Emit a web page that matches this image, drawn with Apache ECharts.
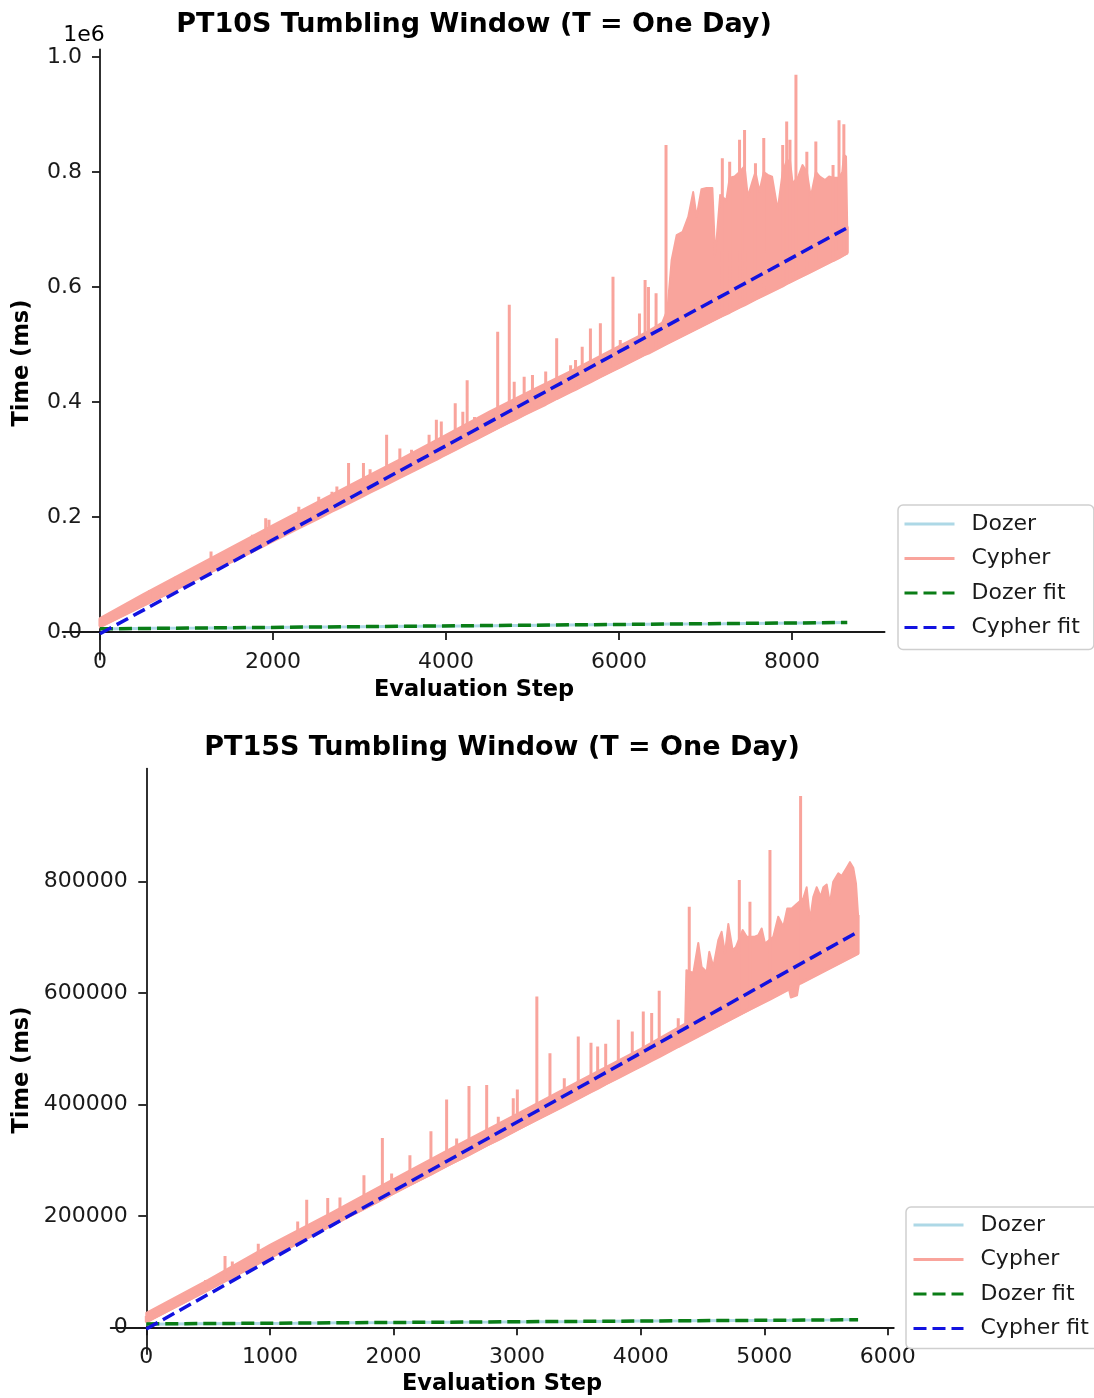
<!DOCTYPE html>
<html>
<head>
<meta charset="utf-8">
<script src="https://cdn.jsdelivr.net/npm/echarts@6/dist/echarts.min.js"></script>
<style>
  html, body { margin: 0; padding: 0; background: #ffffff; }
  #chart { width: 1094px; height: 1398px; }
</style>
</head>
<body>
<div id="chart"></div>
<script>
// ---------- PT10S tumbling window: 8640 evaluation steps ----------
const pt10DozerSteps = [0, 600, 1200, 1800, 2400, 3000, 3600, 4200, 4800, 5400, 6000, 6600, 7200, 7800, 8400, 8639];
const pt10DozerMs    = [5000, 6600, 7000, 7600, 8600, 9100, 10000, 10600, 11400, 12100, 13000, 13900, 14500, 15300, 15900, 16600];

// lower edge of the Cypher trace
const pt10CypherBaseSteps = [0, 1000, 2000, 3000, 4000, 5000, 6000, 6500, 7000, 7500, 8000, 8639];
const pt10CypherBaseMs    = [8000, 83000, 159000, 234000, 309000, 385000, 460000, 497000, 535000, 573000, 610000, 658000];

// upper edge of the dense part of the Cypher trace
const pt10CypherTopSteps = [0, 500, 1000, 1500, 2000, 2500, 3000, 3500, 4000, 4500, 5000, 5500, 6000, 6300, 6500,
  6560, 6609, 6667, 6736, 6801, 6858, 6897, 6954, 7011, 7080, 7100, 7107, 7134, 7170, 7241,
  7280, 7337, 7394, 7452, 7490, 7548, 7578, 7624, 7674, 7720, 7770, 7835, 7893, 7939, 7977,
  8008, 8073, 8122, 8172, 8218, 8276, 8322, 8383, 8429, 8475, 8544, 8582, 8600, 8625, 8639];
const pt10CypherTopMs = [24000, 66000, 106000, 146000, 186000, 225000, 264000, 303000, 343000, 383000, 421000, 458000, 497000, 520000, 538000,
  560000, 647000, 690000, 696000, 722000, 765000, 722000, 770000, 772000, 772000, 700000, 653000, 693000, 760000, 751000,
  790000, 792000, 800000, 810000, 757000, 786000, 800000, 766000, 800000, 795000, 792000, 734000, 800000, 820000, 820000,
  780000, 792000, 812000, 800000, 757000, 800000, 792000, 786000, 792000, 790000, 790000, 800000, 830000, 827000, 705000];

// isolated Cypher spikes: step, value where the spike leaves the trace, spike value
const pt10SpikeSteps = [0, 575, 874, 1284, 1628, 1762, 1916, 1954, 2299, 2529, 2682, 2739, 2874, 3046, 3123, 3314, 3467, 3602, 3805, 3889,
  3946, 4107, 4195, 4245, 4330, 4598, 4732, 4789, 4904, 5000, 5153, 5280, 5441, 5498, 5575, 5670, 5785, 5931, 6015, 6237,
  6302, 6341, 6429, 6544, 7195, 7280, 7394, 7452, 7578, 7674, 7893, 7939, 7977, 8046, 8172, 8276, 8475, 8544, 8600, 8639];
const pt10SpikeFootMs = [10000, 52000, 74000, 105000, 130000, 140000, 152000, 155000, 181000, 198000, 210000, 214000, 224000, 237000, 243000, 257000, 269000, 279000, 294000, 300000,
  305000, 317000, 324000, 328000, 334000, 355000, 365000, 369000, 378000, 385000, 396000, 406000, 418000, 422000, 428000, 435000, 444000, 455000, 461000, 478000,
  483000, 485000, 492000, 501000, 550000, 556000, 565000, 569000, 579000, 586000, 602000, 606000, 609000, 614000, 623000, 631000, 646000, 651000, 656000, 660000];
const pt10SpikePeakMs = [24000, 73000, 96000, 140000, 151000, 169000, 198000, 195000, 218000, 235000, 244000, 253000, 294000, 294000, 283000, 343000, 319000, 317000, 343000, 369000,
  366000, 398000, 383000, 438000, 374000, 522000, 569000, 435000, 444000, 447000, 453000, 511000, 464000, 473000, 496000, 528000, 537000, 618000, 508000, 554000,
  612000, 600000, 589000, 847000, 824000, 818000, 856000, 873000, 815000, 859000, 847000, 888000, 856000, 969000, 835000, 853000, 812000, 890000, 883000, 705000];

const pt10DozerFitSteps = [0, 8639];
const pt10DozerFitMs    = [5500, 16500];
const pt10CypherFitSteps = [0, 8639];
const pt10CypherFitMs    = [-3000, 703000];

const pt10XTicks = [0, 2000, 4000, 6000, 8000];
const pt10YTicks = [0, 200000, 400000, 600000, 800000, 1000000];

// ---------- PT15S tumbling window: 5760 evaluation steps ----------
const pt15DozerSteps = [0, 400, 800, 1200, 1600, 2000, 2400, 2800, 3200, 3600, 4000, 4400, 4800, 5200, 5600, 5759];
const pt15DozerMs    = [5600, 6400, 6900, 7300, 8000, 8400, 9000, 9400, 10100, 10500, 11200, 11600, 12300, 12700, 13300, 13700];

const pt15CypherBaseSteps = [0, 1000, 2000, 3000, 4000, 4400, 4800, 5200, 5215, 5265, 5280, 5450, 5759];
const pt15CypherBaseMs    = [9000, 125000, 240000, 354000, 469000, 515000, 561000, 607000, 592000, 596000, 616000, 636000, 671000];

const pt15CypherTopSteps = [0, 500, 1000, 1500, 2000, 2500, 3000, 3500, 4000, 4360,
  4370, 4426, 4466, 4493, 4534, 4555, 4588, 4628, 4655, 4682, 4709, 4744, 4771, 4825, 4858,
  4917, 4952, 4979, 5006, 5073, 5113, 5154, 5186, 5222, 5262, 5316, 5343, 5370, 5397, 5424,
  5456, 5478, 5505, 5531, 5558, 5599, 5626, 5667, 5693, 5720, 5742, 5759];
const pt15CypherTopMs = [26000, 85000, 148000, 206000, 266000, 325000, 383000, 442000, 500000, 545000,
  641000, 636000, 690000, 647000, 638000, 674000, 647000, 695000, 710000, 671000, 724000, 677000, 683000, 713000, 701000,
  701000, 704000, 716000, 689000, 701000, 737000, 719000, 752000, 752000, 760000, 770000, 790000, 731000, 773000, 790000,
  773000, 790000, 795000, 761000, 800000, 815000, 810000, 825000, 835000, 825000, 797000, 740000];

const pt15SpikeSteps = [0, 480, 637, 696, 906, 1001, 1149, 1225, 1298, 1468, 1567, 1761, 1910, 1985, 2133, 2303, 2430, 2511, 2611, 2754,
  2848, 2969, 3002, 3160, 3266, 3382, 3495, 3598, 3652, 3717, 3819, 3932, 4021, 4089, 4150, 4304, 4393, 4798, 4884, 5046, 5294, 5759];
const pt15SpikeFootMs = [10000, 65000, 83000, 90000, 115000, 125000, 142000, 151000, 160000, 180000, 191000, 213000, 230000, 239000, 256000, 275000, 290000, 299000, 310000, 327000,
  337000, 351000, 355000, 373000, 385000, 398000, 411000, 423000, 429000, 437000, 448000, 461000, 471000, 479000, 486000, 504000, 514000, 561000, 571000, 589000, 618000, 671000];
const pt15SpikePeakMs = [20000, 85000, 128000, 118000, 150000, 142000, 160000, 190000, 229000, 232000, 233000, 273000, 340000, 276000, 309000, 352000, 409000, 339000, 433000, 435000,
  378000, 411000, 427000, 594000, 492000, 447000, 522000, 511000, 504000, 509000, 552000, 531000, 567000, 564000, 604000, 555000, 755000, 803000, 764000, 857000, 954000, 740000];

const pt15DozerFitSteps = [0, 5759];
const pt15DozerFitMs    = [6000, 13500];
const pt15CypherFitSteps = [0, 5759];
const pt15CypherFitMs    = [-3000, 710000];

const pt15XTicks = [0, 1000, 2000, 3000, 4000, 5000, 6000];
const pt15YTicks = [0, 200000, 400000, 600000, 800000];

const seriesNames = ['Dozer', 'Cypher', 'Dozer fit', 'Cypher fit'];

// ---------- styling ----------
const FONT = '"DejaVu Sans", Verdana, sans-serif';
const INK = '#1a1a1a';
const DOZER = '#add8e6';
const CYPHER = '#f9a49c';
const DOZER_FIT = '#0a7d16';
const CYPHER_FIT = '#1212e0';

const pairs = (xs, ys) => xs.map((x, i) => [x, ys[i]]);

// each spike is a vertical stroke leaving the trace and returning to it
function spikePath(steps, foot, peak) {
  const out = [];
  steps.forEach((s, i) => { out.push([s, foot[i]], [s, peak[i]], [s, foot[i]]); });
  return out;
}

// filled body of the Cypher trace between its lower and upper edges
function cypherBody(idx, baseS, baseV, topS, topV) {
  return {
    type: 'custom', xAxisIndex: idx, yAxisIndex: idx, silent: true, clip: true,
    data: [[0, 0]],
    renderItem: function (params, api) {
      const pts = baseS.map((s, i) => api.coord([s, baseV[i]]));
      for (let i = topS.length - 1; i >= 0; i--) pts.push(api.coord([topS[i], topV[i]]));
      return {
        type: 'polygon', shape: { points: pts },
        style: { fill: CYPHER, stroke: CYPHER, lineWidth: 2, lineJoin: 'round' }
      };
    }
  };
}

function lineSeries(name, idx, data, color, width, dashed) {
  return {
    name: name, type: 'line', xAxisIndex: idx, yAxisIndex: idx,
    data: data, symbol: 'none', silent: true, animation: false,
    lineStyle: { color: color, width: width, type: dashed ? [13, 6] : 'solid' },
    itemStyle: { color: color }
  };
}

function xAxisFor(idx, min, max, ticks) {
  return {
    type: 'value', gridIndex: idx, min: min, max: max,
    axisLine: { onZero: true, lineStyle: { color: INK, width: 1.8 } },
    axisTick: { show: true, length: 8, lineStyle: { color: INK, width: 1.8 }, customValues: ticks },
    axisLabel: { fontFamily: FONT, fontSize: 22, color: INK, margin: -8, customValues: ticks,
      formatter: v => String(v) },
    splitLine: { show: false }
  };
}

function yAxisFor(idx, min, max, ticks, margin, fmt) {
  return {
    type: 'value', gridIndex: idx, min: min, max: max,
    axisLine: { onZero: true, lineStyle: { color: INK, width: 1.8 } },
    axisTick: { show: true, length: 8, lineStyle: { color: INK, width: 1.8 }, customValues: ticks },
    axisLabel: { fontFamily: FONT, fontSize: 22, color: INK, margin: margin, customValues: ticks, formatter: fmt },
    splitLine: { show: false }
  };
}

function legendAt(left, top, padding) {
  return {
    left: left, top: top, orient: 'vertical', data: seriesNames,
    itemWidth: 50, itemHeight: 14, itemGap: 12.5, padding: padding,
    selectedMode: false,
    itemStyle: { opacity: 0 },
    lineStyle: { width: 3 },
    borderColor: '#cfcfcf', borderWidth: 1.5, borderRadius: 5,
    backgroundColor: 'rgba(255,255,255,0.85)',
    textStyle: { fontFamily: FONT, fontSize: 22, color: INK, padding: [0, 0, 0, 12] }
  };
}

function label(text, x, y, font, rotation) {
  return {
    type: 'text', x: x, y: y, rotation: rotation || 0, silent: true,
    style: {
      text: text, font: font, fill: '#000',
      align: 'center', verticalAlign: 'middle',
      textAlign: 'center', textVerticalAlign: 'middle'
    }
  };
}

const TITLE_FONT = 'bold 27px ' + FONT;
const NAME_FONT = 'bold 22.5px ' + FONT;

const option = {
  animation: false,
  backgroundColor: '#ffffff',
  grid: [
    { left: 62.6, top: 49.5, width: 822, height: 610.1, containLabel: false, outerBoundsMode: 'none' },
    { left: 110.7, top: 768.6, width: 783.1, height: 585.4, containLabel: false, outerBoundsMode: 'none' }
  ],
  xAxis: [
    xAxisFor(0, -432, 9071, pt10XTicks),
    xAxisFor(1, -288, 6048, pt15XTicks)
  ],
  yAxis: [
    yAxisFor(0, -48000, 1013000, pt10YTicks, -19.4, v => (v / 1e6).toFixed(1)),
    yAxisFor(1, -48000, 1003000, pt15YTicks, -17, v => String(v))
  ],
  legend: [
    legendAt(898, 505, [8, 14, 11, 5]),
    legendAt(906, 1207, [7, 10, 9, 6])
  ],
  graphic: [
    label('PT10S Tumbling Window (T = One Day)', 474, 25, TITLE_FONT),
    label('PT15S Tumbling Window (T = One Day)', 502, 748, TITLE_FONT),
    label('1e6', 84, 35, '22px ' + FONT),
    label('Evaluation Step', 474, 690, NAME_FONT),
    label('Evaluation Step', 502, 1384, NAME_FONT),
    label('Time (ms)', 22, 363, NAME_FONT, Math.PI / 2),
    label('Time (ms)', 22, 1070, NAME_FONT, Math.PI / 2)
  ],
  series: [
    lineSeries('Dozer', 0, pairs(pt10DozerSteps, pt10DozerMs), DOZER, 3, false),
    cypherBody(0, pt10CypherBaseSteps, pt10CypherBaseMs, pt10CypherTopSteps, pt10CypherTopMs),
    lineSeries('Cypher', 0, spikePath(pt10SpikeSteps, pt10SpikeFootMs, pt10SpikePeakMs), CYPHER, 3, false),
    lineSeries('Dozer fit', 0, pairs(pt10DozerFitSteps, pt10DozerFitMs), DOZER_FIT, 3.5, true),
    lineSeries('Cypher fit', 0, pairs(pt10CypherFitSteps, pt10CypherFitMs), CYPHER_FIT, 3.5, true),

    lineSeries('Dozer', 1, pairs(pt15DozerSteps, pt15DozerMs), DOZER, 3, false),
    cypherBody(1, pt15CypherBaseSteps, pt15CypherBaseMs, pt15CypherTopSteps, pt15CypherTopMs),
    lineSeries('Cypher', 1, spikePath(pt15SpikeSteps, pt15SpikeFootMs, pt15SpikePeakMs), CYPHER, 3, false),
    lineSeries('Dozer fit', 1, pairs(pt15DozerFitSteps, pt15DozerFitMs), DOZER_FIT, 3.5, true),
    lineSeries('Cypher fit', 1, pairs(pt15CypherFitSteps, pt15CypherFitMs), CYPHER_FIT, 3.5, true)
  ]
};

const chart = echarts.init(document.getElementById('chart'), null, { renderer: 'canvas' });
chart.setOption(option);
</script>
</body>
</html>
